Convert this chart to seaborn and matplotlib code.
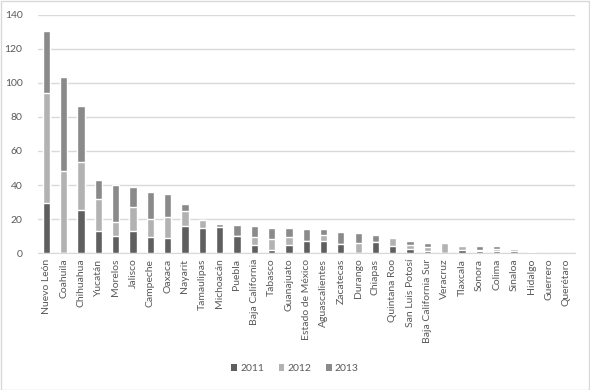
import matplotlib
matplotlib.use("Agg")
import matplotlib.pyplot as plt
import seaborn as sns
import pandas as pd
import numpy as np
from matplotlib.patches import Patch, Rectangle

states = ["Nuevo León", "Coahuila", "Chihuahua", "Yucatán", "Morelos", "Jalisco",
          "Campeche", "Oaxaca", "Nayarit", "Tamaulipas", "Michoacán", "Puebla",
          "Baja California", "Tabasco", "Guanajuato", "Estado de México",
          "Aguascalientes", "Zacatecas", "Durango", "Chiapas", "Quintana Roo",
          "San Luis Potosí", "Baja California Sur", "Veracruz", "Tlaxcala",
          "Sonora", "Colima", "Sinaloa", "Hidalgo", "Guerrero", "Querétaro"]
v2011 = [29.6, 0, 25.3, 13, 10, 13, 9.6, 9, 15.8, 14.6, 15.2, 9.9,
         4.7, 1.8, 4.7, 7, 7, 5.3, 0, 6.4, 4.1,
         2.3, 1.2, 0, 1.8, 1.2, 1.2, 1.2, 0, 0, 0]
v2012 = [64.7, 48, 28.1, 18.7, 8.2, 14, 10.5, 12.2, 8.8, 4.7, 0, 0,
         4.7, 6.4, 4.7, 0, 3.5, 0, 5.8, 0, 4.7,
         2.3, 2.3, 5.8, 2.5, 0.6, 1.2, 1.2, 0, 0, 0]
v2013 = [36.3, 55.6, 33.3, 11.1, 21.7, 11.7, 15.8, 13.5, 4.1, 0, 1.8, 6.4,
         6.4, 6.4, 5.2, 7, 3.5, 7, 5.9, 4.1, 0,
         2.3, 2.3, 0, 0.4, 2.3, 1.7, 0.6, 0.9, 0, 0]
years = ["2011", "2012", "2013"]
colors = ["#5f5f5f", "#b2b2b2", "#8a8a8a"]

df = pd.DataFrame({"state": states, "2011": v2011, "2012": v2012, "2013": v2013})
df["c1"] = df["2011"]
df["c2"] = df["c1"] + df["2012"]
df["c3"] = df["c2"] + df["2013"]

sns.set_style("white")
plt.rcParams["font.family"] = ["Lato", "DejaVu Sans"]
txt = "#595959"

fig = plt.figure(figsize=(5.9, 3.9), dpi=100)
ax = fig.add_axes([0.064, 0.351, 0.91, 0.611])

for col, c in zip(["c3", "c2", "c1"], [colors[2], colors[1], colors[0]]):
    sns.barplot(data=df, x="state", y=col, order=states, color=c, width=0.42,
                saturation=1, ax=ax, zorder=3, errorbar=None)

ax.set_ylim(0, 140)
ax.set_yticks(np.arange(0, 141, 20))
ax.set_xlim(-0.5, len(states) - 0.5)
ax.yaxis.grid(True, color="#d9d9d9", linewidth=1, zorder=0)
ax.set_axisbelow(True)
for s in ["top", "right", "left"]:
    ax.spines[s].set_visible(False)
ax.spines["bottom"].set_color("#d9d9d9")
ax.set_xlabel("")
ax.set_ylabel("")
ax.tick_params(axis="both", length=0, labelsize=7.5, labelcolor=txt, pad=4)
ax.tick_params(axis="y", pad=11)
plt.setp(ax.get_xticklabels(), rotation=90)

handles = [Patch(facecolor=c, edgecolor="none", label=y) for y, c in zip(years, colors)]
fig.legend(handles=handles, loc="center", bbox_to_anchor=(0.5, 0.055), ncol=3,
           frameon=False, fontsize=7.5, labelcolor=txt, handlelength=0.55,
           handleheight=0.55, handletextpad=0.3, columnspacing=1.4)

fig.patches.append(Rectangle((0.001, 0.001), 0.997, 0.997, transform=fig.transFigure,
                             fill=False, edgecolor="#d9d9d9", linewidth=1))

fig.savefig("out.png", dpi=100)
